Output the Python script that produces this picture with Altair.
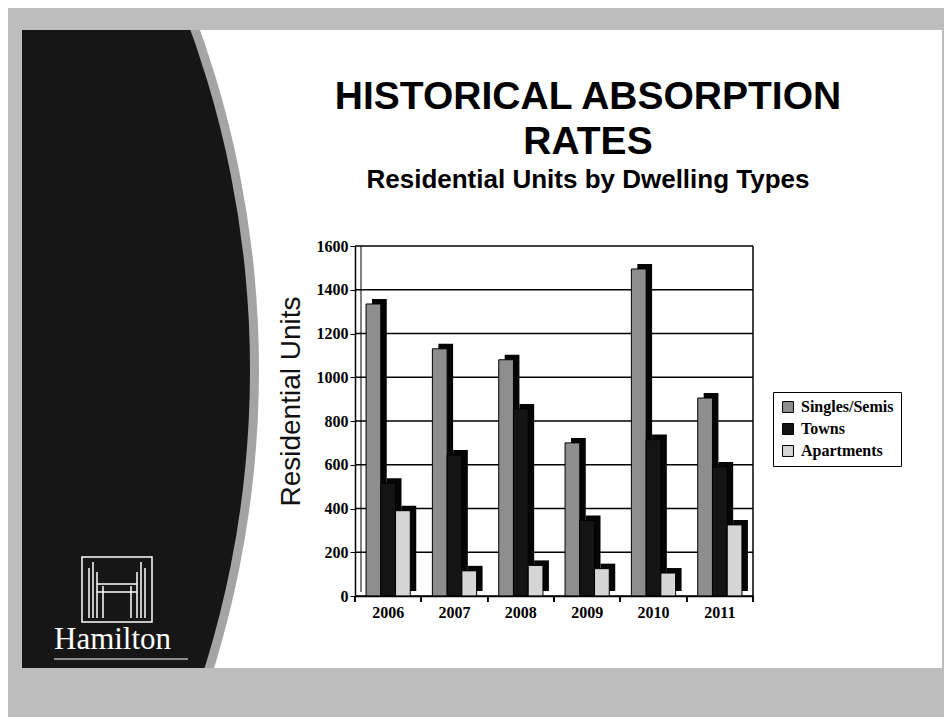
import altair as alt
import pandas as pd

years = ["2006", "2007", "2008", "2009", "2010", "2011"]
series = ["Singles/Semis", "Towns", "Apartments"]
singles = [1335, 1130, 1080, 700, 1495, 905]
towns = [515, 645, 855, 345, 715, 590]
apartments = [390, 115, 140, 125, 105, 325]
y_ticks = [0, 200, 400, 600, 800, 1000, 1200, 1400, 1600]
colors = ["#8e8e8e", "#141414", "#d6d6d6"]

rows = []
for i, yr in enumerate(years):
    for s, vals in zip(series, [singles, towns, apartments]):
        rows.append({"year": yr, "series": s, "value": vals[i]})
df = pd.DataFrame(rows)
grid_df = pd.DataFrame({"v": y_ticks})
one = pd.DataFrame({"d": [0]})

W, H = 398, 350
GRAY = "#bdbdbd"

xenc = alt.X("year:N", sort=years, scale=alt.Scale(paddingInner=0, paddingOuter=0),
             axis=alt.Axis(title=None, labelAngle=0, ticks=False, labelFont="Liberation Serif",
                           labelFontWeight="bold", labelFontSize=16, labelColor="black",
                           labelPadding=8, domainColor="black", domainWidth=1.5, zindex=1))
yenc = alt.Y("value:Q", scale=alt.Scale(domain=[0, 1600], nice=False),
             axis=alt.Axis(values=y_ticks, format="d", grid=False, labelFont="Liberation Serif",
                           labelFontWeight="bold", labelFontSize=16, labelColor="black",
                           tickColor="black", tickSize=5, domainColor="black", domainWidth=1.5,
                           labelPadding=2, zindex=1, title="Residential Units",
                           titleFont="Liberation Sans", titleFontWeight="normal",
                           titleFontSize=28, titleColor="#111111", titleX=-64, titleY=155,
                           titleAngle=-90, titleAlign="center", titleBaseline="middle"))
xoff_front = alt.XOffset("series:N", sort=series,
                         scale=alt.Scale(paddingInner=0, paddingOuter=0.75, align=0.5))
xoff_shadow = alt.XOffset("series:N", sort=series,
                          scale=alt.Scale(paddingInner=0, paddingOuter=0.75, align=0.77))

base1 = alt.Chart(one)

white = base1.mark_rect(color="white").encode(
    x=alt.value(-333), x2=alt.value(587), y=alt.value(-216), y2=alt.value(422))
halo = base1.mark_point(filled=True, opacity=1, color="#a4a4a4", strokeWidth=0).encode(
    x=alt.value(-1106), y=alt.value(124), size=alt.value(2020 * 2020))
dark = base1.mark_point(filled=True, opacity=1, color="#161616", strokeWidth=0).encode(
    x=alt.value(-1106), y=alt.value(124), size=alt.value(2002 * 2002))
strip_top = base1.mark_rect(color=GRAY).encode(
    x=alt.value(-347), x2=alt.value(589), y=alt.value(-238), y2=alt.value(-216))
strip_bot = base1.mark_rect(color=GRAY).encode(
    x=alt.value(-347), x2=alt.value(589), y=alt.value(422), y2=alt.value(471))
strip_left = base1.mark_rect(color=GRAY).encode(
    x=alt.value(-347), x2=alt.value(-333), y=alt.value(-238), y2=alt.value(471))
strip_right = base1.mark_rect(color=GRAY).encode(
    x=alt.value(587), x2=alt.value(589), y=alt.value(-238), y2=alt.value(471))

logo_box = base1.mark_rect(fill=None, stroke="white", strokeWidth=1.5).encode(
    x=alt.value(-273), x2=alt.value(-203), y=alt.value(311), y2=alt.value(376))
logo_lines = []
for lx, ly in [(-266, 322), (-262, 316), (-258, 326), (-218, 326), (-214, 316), (-210, 322),
               (-252, 340), (-224, 340)]:
    logo_lines.append(base1.mark_rule(color="white", strokeWidth=1.5).encode(
        x=alt.value(lx), y=alt.value(ly), y2=alt.value(372)))
logo_bar = base1.mark_rule(color="white", strokeWidth=1.5).encode(
    x=alt.value(-258), x2=alt.value(-218), y=alt.value(338))
logo_bar2 = base1.mark_rule(color="white", strokeWidth=1.5).encode(
    x=alt.value(-258), x2=alt.value(-218), y=alt.value(346))
ham = base1.mark_text(text="Hamilton", font="Liberation Serif", fontSize=31, color="white",
                      align="left", baseline="alphabetic").encode(
    x=alt.value(-301), y=alt.value(403))
ham_ul = base1.mark_rule(color="white", strokeWidth=1).encode(
    x=alt.value(-301), x2=alt.value(-167), y=alt.value(413))

t1 = base1.mark_text(text="HISTORICAL ABSORPTION", font="Liberation Sans", fontWeight="bold",
                     fontSize=39, color="black", align="center", baseline="middle").encode(
    x=alt.value(233), y=alt.value(-149))
t2 = base1.mark_text(text="RATES", font="Liberation Sans", fontWeight="bold",
                     fontSize=39, color="black", align="center", baseline="middle").encode(
    x=alt.value(233), y=alt.value(-104))
t3 = base1.mark_text(text="Residential Units by Dwelling Types", font="Liberation Sans",
                     fontWeight="bold", fontSize=26, color="black", align="center",
                     baseline="middle").encode(
    x=alt.value(233), y=alt.value(-66))

grid = alt.Chart(grid_df).mark_rule(color="black", strokeWidth=1.3).encode(
    y=alt.Y("v:Q", scale=alt.Scale(domain=[0, 1600], nice=False)),
    x=alt.value(0), x2=alt.value(W))
right_frame = base1.mark_rule(color="black", strokeWidth=1.5).encode(
    x=alt.value(W), y=alt.value(0), y2=alt.value(H))
inner_wall = base1.mark_rule(color="black", strokeWidth=1).encode(
    x=alt.value(6), y=alt.value(0), y2=alt.value(H - 4))

shadow = alt.Chart(df).mark_bar(color="#050505", yOffset=-5, y2Offset=-5).encode(
    x=xenc, xOffset=xoff_shadow, y=yenc)
front = alt.Chart(df).mark_bar(stroke="black", strokeWidth=1).encode(
    x=xenc, xOffset=xoff_front, y=yenc,
    color=alt.Color("series:N", sort=series,
                    scale=alt.Scale(domain=series, range=colors),
                    legend=alt.Legend(title=None, orient="none", legendX=418, legendY=146,
                                      fillColor="white", strokeColor="black", padding=7,
                                      symbolType="square", symbolSize=120,
                                      symbolStrokeColor="black", symbolStrokeWidth=1,
                                      labelFont="Liberation Serif", labelFontWeight="bold",
                                      labelFontSize=16, labelColor="black", rowPadding=6,
                                      labelOffset=5)))
ticks0 = alt.Chart(df).mark_rule(color="black", strokeWidth=1.3).encode(
    x=alt.X("year:N", sort=years, bandPosition=0), y=alt.value(H), y2=alt.value(H + 6))
ticks1 = alt.Chart(df).mark_rule(color="black", strokeWidth=1.3).encode(
    x=alt.X("year:N", sort=years, bandPosition=1), y=alt.value(H), y2=alt.value(H + 6))

chart = alt.layer(
    white, halo, dark, strip_top, strip_bot, strip_left, strip_right,
    logo_box, *logo_lines, logo_bar, logo_bar2, ham, ham_ul,
    t1, t2, t3, grid, inner_wall, right_frame, shadow, front, ticks0, ticks1
).resolve_scale(xOffset="independent").properties(
    width=W, height=H,
    autosize=alt.AutoSizeParams(type="none"),
    padding={"left": 347, "top": 238, "right": 191, "bottom": 121},
    background=GRAY,
).configure_view(stroke=None)

chart.save("out.html", embed_options={"renderer": "svg", "actions": False})
